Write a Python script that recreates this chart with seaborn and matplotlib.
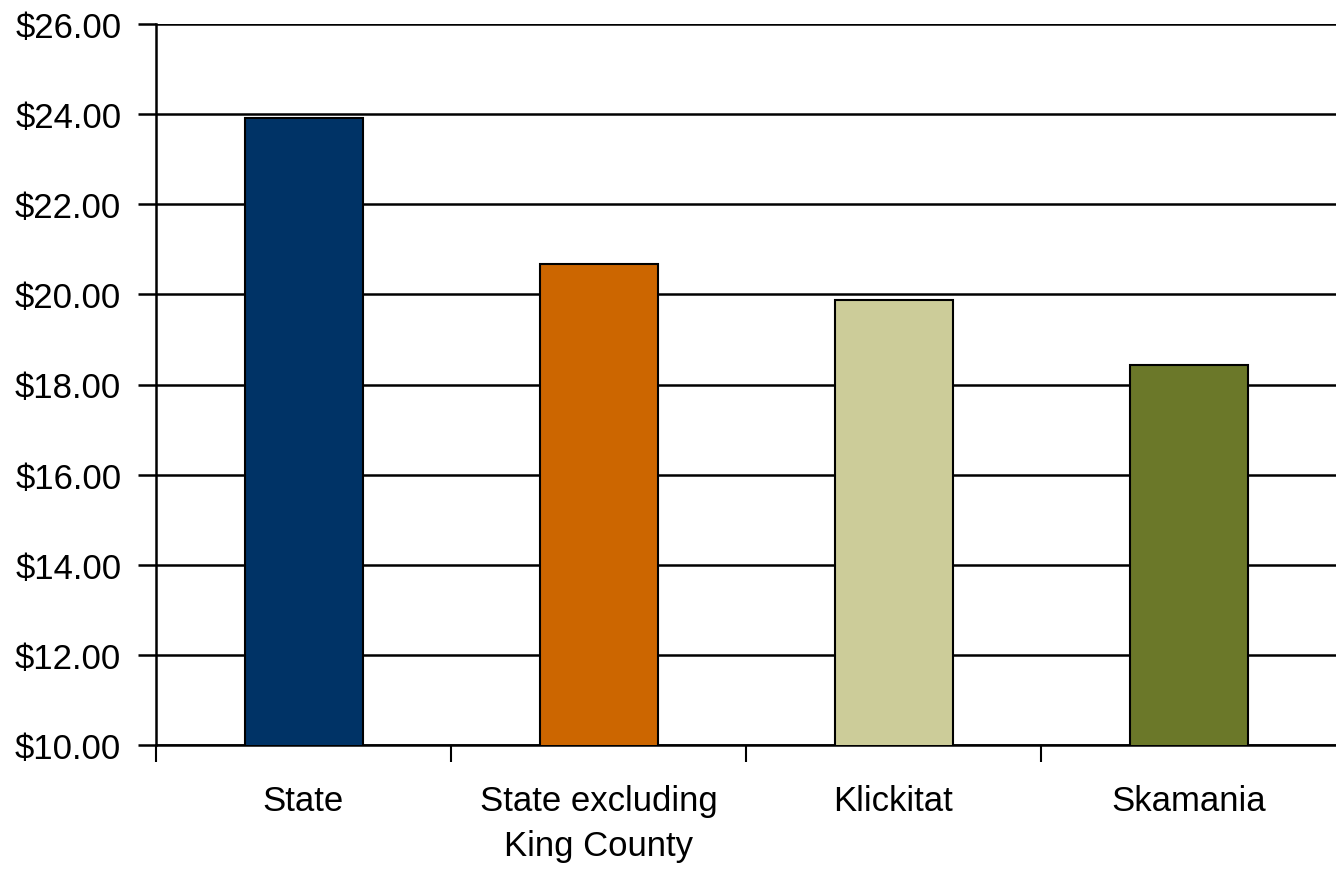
import matplotlib
matplotlib.use("Agg")
import matplotlib.pyplot as plt
import seaborn as sns
import pandas as pd
from matplotlib.ticker import FuncFormatter, FixedLocator

# data
categories = ["State", "State excluding\nKing County", "Klickitat", "Skamania"]
wages = [23.91, 20.67, 19.87, 18.43]
bar_colors = ["#003366", "#CC6600", "#CCCC99", "#6B7829"]

df = pd.DataFrame({"area": categories, "wage": wages})

sns.set_style("white")
plt.rcParams['font.family'] = ['Liberation Sans', 'DejaVu Sans']
plt.rcParams['text.color'] = 'black'
plt.rcParams['xtick.color'] = 'black'
plt.rcParams['ytick.color'] = 'black'

fig = plt.figure(figsize=(13.36, 8.70), dpi=100)
ax = fig.add_axes([156 / 1336, 1 - 746 / 870, 1 - 156 / 1336, (746 - 25) / 870])

sns.barplot(data=df, x="area", y="wage", hue="area", palette=bar_colors,
            saturation=1, width=0.40, edgecolor="black", linewidth=1.5,
            legend=False, zorder=3, ax=ax)

ax.set_ylim(10, 26)
ax.set_xlim(-0.5, 3.5)
ax.set_yticks(range(10, 27, 2))
ax.yaxis.set_major_formatter(FuncFormatter(lambda v, p: f"${v:.2f}"))
ax.yaxis.grid(True, color="black", linewidth=1.8, zorder=0)
ax.set_axisbelow(True)

# tick marks between categories, labels centred under bars
ax.xaxis.set_minor_locator(FixedLocator([-0.5, 0.5, 1.5, 2.5]))
ax.tick_params(axis="x", which="major", length=0, pad=28, labelsize=25,
               labelcolor="black")
ax.tick_params(axis="x", which="minor", length=12, width=1.5, color="black",
               direction="out", bottom=True)
ax.tick_params(axis="y", which="major", length=13, width=1.8, color="black",
               direction="out", left=True, pad=12, labelsize=25,
               labelcolor="black")
for lbl in ax.get_xticklabels():
    lbl.set_linespacing(1.45)

for side in ["top", "right"]:
    ax.spines[side].set_visible(False)
for side in ["left", "bottom"]:
    ax.spines[side].set_color("black")
    ax.spines[side].set_linewidth(1.8)

ax.set_xlabel("")
ax.set_ylabel("")

fig.savefig("out.png", dpi=100)
